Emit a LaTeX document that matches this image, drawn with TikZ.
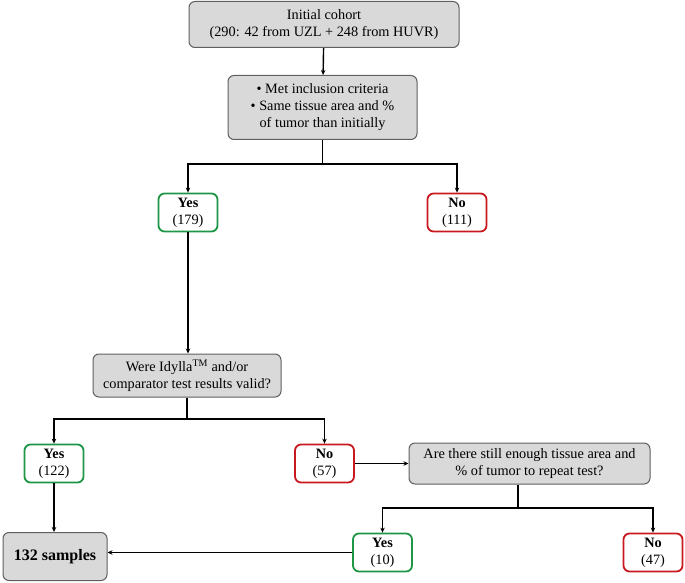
\documentclass[tikz,border=0pt]{standalone}
\usepackage{fontspec}
\setmainfont{Liberation Serif}
\usetikzlibrary{arrows.meta}
\definecolor{boxgray}{RGB}{217,217,217}
\definecolor{boxline}{RGB}{95,95,95}
\definecolor{yesgreen}{RGB}{30,150,70}
\definecolor{nored}{RGB}{200,25,30}
\begin{document}
\begin{tikzpicture}[x=1pt,y=-1pt,
  base/.style={rounded corners=6pt, align=center, inner sep=0pt, font=\fontsize{14.3}{17}\selectfont},
  graybox/.style={base, fill=boxgray, draw=boxline, line width=1pt},
  yesbox/.style={base, draw=yesgreen, line width=1.8pt, fill=white, minimum width=59pt, minimum height=38pt},
  nobox/.style={base, draw=nored, line width=1.8pt, fill=white, minimum width=59pt, minimum height=38pt},
  conn/.style={line width=1.4pt, -{Stealth[length=5pt,width=4.5pt]}},
  plain/.style={line width=1.4pt}]
\useasboundingbox (0,0) rectangle (685,583);

\node[graybox, minimum width=270pt, minimum height=46pt] (init) at (324,24.5)
  {Initial cohort\\(290: 42 from UZL + 248 from HUVR)};
\node[graybox, minimum width=189pt, minimum height=64pt] (crit) at (322.5,107.5)
  {\textbullet\ Met inclusion criteria\\\textbullet\ Same tissue area and \%\\of tumor than initially};
\node[yesbox] (yes1) at (188,212.5) {\textbf{Yes}\\(179)};
\node[nobox] (no1) at (457,212.5) {\textbf{No}\\(111)};
\node[graybox, minimum width=188pt, minimum height=43pt] (idy) at (187,375.5)
  {Were Idylla\textsuperscript{TM} and/or\\comparator test results valid?};
\node[yesbox] (yes2) at (54,463.5) {\textbf{Yes}\\(122)};
\node[nobox] (no2) at (324.5,463.5) {\textbf{No}\\(57)};
\node[graybox, minimum width=241pt, minimum height=41pt] (are) at (529.5,463.5)
  {Are there still enough tissue area and\\\% of tumor to repeat test?};
\node[yesbox] (yes3) at (382.5,552.5) {\textbf{Yes}\\(10)};
\node[nobox] (no3) at (653,552.5) {\textbf{No}\\(47)};
\node[graybox, minimum width=104pt, minimum height=48pt, font=\fontsize{16}{18}\selectfont\bfseries] (samp) at (55,556.5) {132 samples};

\coordinate (b1) at (322.5,164);
\coordinate (b2) at (187,419);
\coordinate (b3) at (518,508);

\draw[conn] (init) -- (crit);
\draw[plain] (crit.south) -- (b1);
\draw[conn] (b1) -| (yes1.north);
\draw[conn] (b1) -| (no1.north);
\draw[conn] (yes1.south) -- (yes1.south |- idy.north);
\draw[plain] (idy.south) -- (b2);
\draw[conn] (b2) -| (yes2.north);
\draw[conn] (b2) -| (no2.north);
\draw[conn] (no2.east) -- (are.west);
\draw[plain] (b3 |- are.south) -- (b3);
\draw[conn] (b3) -| (yes3.north);
\draw[conn] (b3) -| (no3.north);
\draw[conn] (yes2.south) -- (yes2.south |- samp.north);
\draw[conn] (yes3.west) -- (yes3.west -| samp.east);
\end{tikzpicture}
\end{document}
